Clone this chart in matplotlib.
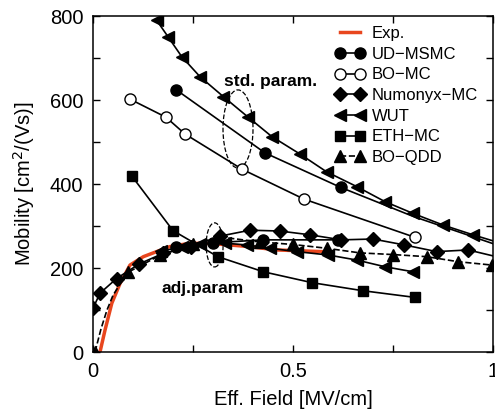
import numpy as np
import matplotlib
matplotlib.use("Agg")
import matplotlib.pyplot as plt
from matplotlib.patches import Ellipse
from matplotlib.ticker import MultipleLocator

plt.rcParams['font.family'] = ['Liberation Sans', 'DejaVu Sans']

# experimental curve
exp_x = [0.0175, 0.03, 0.047, 0.0675, 0.0925, 0.126, 0.159, 0.1925, 0.2425, 0.3, 0.39, 0.459, 0.572]
exp_y = [0, 52, 116, 163, 207, 227, 239, 251, 259, 258, 251, 243, 239]

# standard parameters
ud_std_x = [0.207, 0.43, 0.619, 0.80, 1.0]
ud_std_y = [625, 474, 392, 323, 258]
bomc_std_x = [0.0925, 0.1825, 0.23, 0.373, 0.5275, 0.805]
bomc_std_y = [602, 559, 519, 435, 364, 273]
wut_std_x = [0.159, 0.188, 0.222, 0.268, 0.326, 0.388, 0.447, 0.518, 0.584, 0.659, 0.73, 0.80, 0.876, 0.95, 1.03]
wut_std_y = [790, 750, 703, 655, 608, 559, 513, 471, 429, 394, 358, 330, 302, 279, 256]

# adjusted parameters
ud_adj_x = [0.207, 0.3, 0.426, 0.613]
ud_adj_y = [250, 260, 267, 267]
num_x = [0.0, 0.0175, 0.059, 0.116, 0.176, 0.245, 0.318, 0.3925, 0.4675, 0.5425, 0.621, 0.70, 0.778, 0.859, 0.938, 1.03]
num_y = [104, 140, 175, 210, 235, 250, 276, 290, 288, 279, 267, 269, 255, 239, 243, 222]
wut_adj_x = [0.17, 0.222, 0.268, 0.33, 0.384, 0.4425, 0.509, 0.588, 0.659, 0.73, 0.80]
wut_adj_y = [240, 250, 258, 259, 255, 247, 239, 231, 219, 203, 191]
eth_x = [0.097, 0.2, 0.312, 0.426, 0.548, 0.674, 0.805]
eth_y = [419, 289, 227, 191, 165, 146, 130]
qdd_x = [0.005, 0.02, 0.035, 0.05, 0.07, 0.088, 0.167, 0.25, 0.317, 0.417, 0.5, 0.584, 0.667, 0.75, 0.834, 0.913, 0.997]
qdd_y = [0, 55, 100, 135, 165, 190, 230, 257, 274, 262, 256, 247, 236, 232, 227, 215, 207]
qdd_marks = [0] + list(range(5, 17))

fig = plt.figure(figsize=(4.95, 4.11), dpi=100)
ax = fig.add_axes([93/495, 1-352/411, 400/495, 336/411])

red = '#E8461E'
lw = 1.2
ms = 8

ax.plot(exp_x, exp_y, color=red, lw=2.5, label='Exp.', zorder=2)
ax.plot(ud_std_x, ud_std_y, 'k-o', lw=lw, ms=ms, markevery=[0, 1, 2], label='UD\u2212MSMC', zorder=3)
ax.plot(ud_adj_x, ud_adj_y, 'k-o', lw=lw, ms=ms, zorder=3)
ax.plot(bomc_std_x, bomc_std_y, 'k-o', lw=lw, ms=ms, mfc='white', label='BO\u2212MC', zorder=3)
ax.plot(num_x, num_y, 'k-D', lw=lw, ms=7, label='Numonyx\u2212MC', zorder=3)
ax.plot(wut_std_x, wut_std_y, 'k-<', lw=lw, ms=9, label='WUT', zorder=3)
ax.plot(wut_adj_x, wut_adj_y, 'k-<', lw=lw, ms=9, zorder=3)
ax.plot(eth_x, eth_y, 'k-s', lw=lw, ms=7, label='ETH\u2212MC', zorder=3)
ax.plot(qdd_x, qdd_y, 'k--^', lw=lw, ms=9, markevery=qdd_marks, label='BO\u2212QDD', zorder=3)

# ellipses marking parameter sets
ax.add_patch(Ellipse((0.3625, 531), 0.075, 186, fill=False, ls='--', lw=0.9, ec='k'))
ax.add_patch(Ellipse((0.304, 255), 0.0425, 105, fill=False, ls='--', lw=0.9, ec='k'))
ax.text(0.3275, 643, 'std. param.', fontsize=12.5, fontweight='bold', va='center', ha='left')
ax.text(0.1725, 150, 'adj.param', fontsize=12.5, fontweight='bold', va='center', ha='left')

ax.set_xlim(0, 1)
ax.set_ylim(0, 800)
ax.xaxis.set_major_locator(MultipleLocator(0.5))
ax.xaxis.set_minor_locator(MultipleLocator(0.25))
ax.yaxis.set_major_locator(MultipleLocator(200))
ax.yaxis.set_minor_locator(MultipleLocator(100))
ax.set_xticks([0, 0.5, 1])
ax.set_xticklabels(['0', '0.5', '1'])
ax.tick_params(which='both', direction='in', top=True, right=True, length=5, width=1.0,
               labelsize=14.5, pad=7)
for s in ax.spines.values():
    s.set_linewidth(1.1)

ax.set_xlabel('Eff. Field [MV/cm]', fontsize=14.5, labelpad=7)
ax.set_ylabel('Mobility [cm$^2$/(Vs)]', fontsize=14.5, labelpad=9)

ax.legend(loc='upper left', bbox_to_anchor=(0.585, 0.995), frameon=False, numpoints=2,
          fontsize=12, handlelength=1.8, handletextpad=0.4, labelspacing=0.34, borderpad=0)

fig.savefig('out.png', dpi=100)
